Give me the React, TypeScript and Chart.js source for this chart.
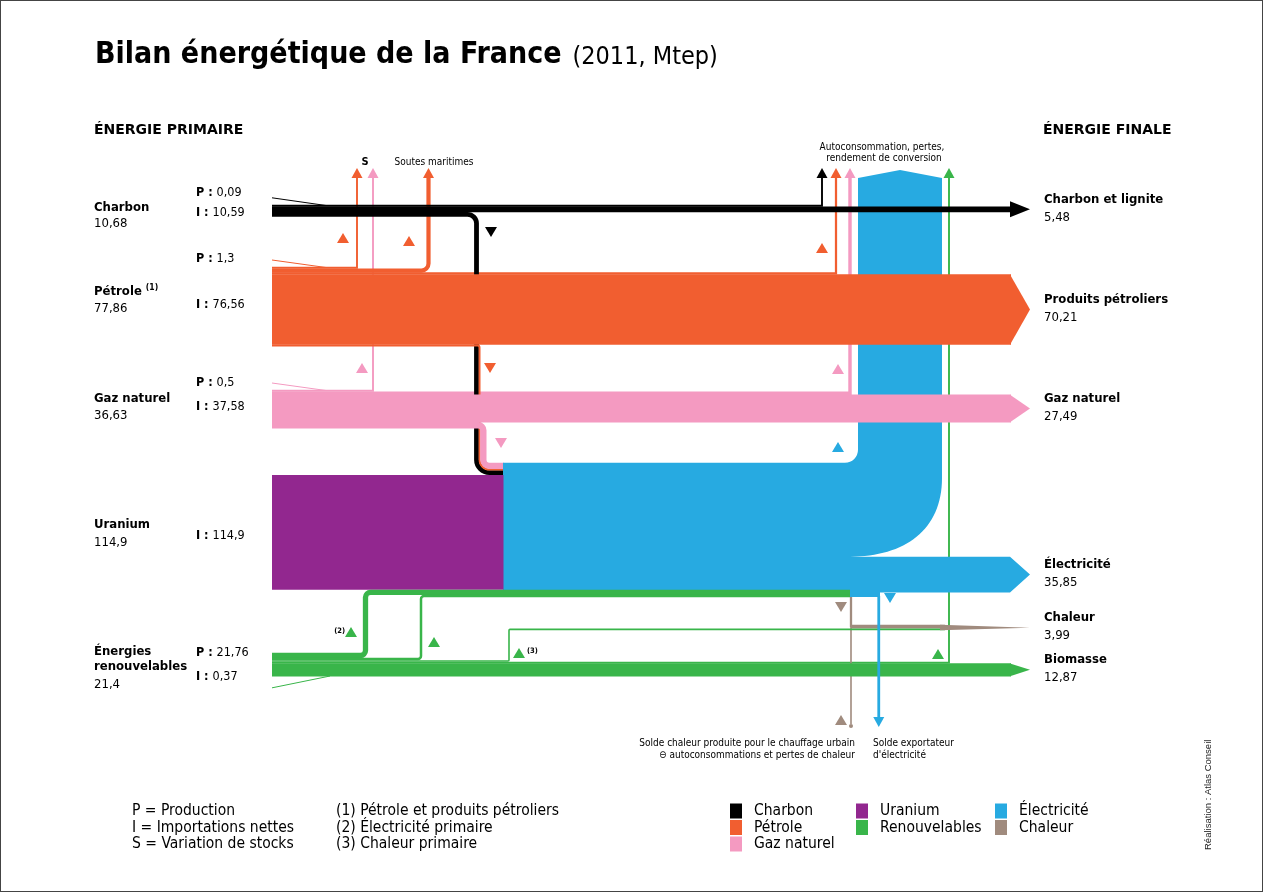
import React, { useEffect, useRef } from "react";
import { Chart, registerables } from "chart.js";
Chart.register(...registerables);

// ---------- DATA (Mtep) ----------
const primaryLabels = ["Charbon", "Pétrole", "Gaz naturel", "Uranium", "Énergies renouvelables"];
const primaryTotals = ["10,68", "77,86", "36,63", "114,9", "21,4"];
const primaryProduction = [0.09, 1.3, 0.5, 0, 21.76];
const primaryImports = [10.59, 76.56, 37.58, 114.9, 0.37];
const primaryPText = ["0,09", "1,3", "0,5", "", "21,76"];
const primaryIText = ["10,59", "76,56", "37,58", "114,9", "0,37"];

const finalLabels = ["Charbon et lignite", "Produits pétroliers", "Gaz naturel", "Électricité", "Chaleur", "Biomasse"];
const finalValues = [5.48, 70.21, 27.49, 35.85, 3.99, 12.87];
const finalText = ["5,48", "70,21", "27,49", "35,85", "3,99", "12,87"];

// intermediate flows
const stockVariation = [0, 1.0, 1.45]; // coal, oil, gas
const marineBunkers = 3.9;
const toElectricity = [4.5, 0.8, 6.0, 114.9]; // coal, oil, gas, uranium
const ownUseLosses = [0.7, 1.95, 3.14, 84, 1.16]; // coal, oil, gas, electricity, renewables
const renewablesToElectricity = [5.0, 2.2]; // (2)
const renewablesToHeat = 0.9; // (3)
const electricityExport = 2.5;
const electricityToHeat = 2.0;
const heatNetBalance = 1.09;

// ---------- STYLE / LAYOUT ----------
const W = 1264;
const H = 893;
const C = {
  coal: "#000000",
  oil: "#F15E30",
  gas: "#F49AC1",
  uranium: "#92278F",
  ren: "#39B54A",
  elec: "#27AAE1",
  heat: "#A08B7E",
};
const FONT = '"DejaVu Sans Condensed", "DejaVu Sans", sans-serif';
const FONT_WIDE = '"DejaVu Sans", sans-serif';

const L = {
  x0: 272, xMerge: 326, xS: 357, xSG: 373, xSoutes: 428.5, xCoalDown: 476.5, xPower: 503,
  xLossCoal: 822, xLossOil: 836, xLossGas: 850, xCol: 858, xLossRen: 949,
  xHeat: 851, xExportEdge: 880, xArrow: 1010, xTip: 1030, xHydro: 365.5, xOther: 421, xHeat3: 509,
  yArrowBase: 178, yArrowTip: 168,
  coalTop: 205, oilTop: 267, gasTop: 390, renTop: 653, blockBottom: 597, heatTop: 625,
};
const dw = (v: number) => Math.max(v, 1.6);
const stack = (top: number, ws: number[]) => {
  let y = top;
  return ws.map((w) => {
    const c = y + w / 2;
    y += w;
    return c;
  });
};

const sankeyPlugin = {
  id: "sankeyDraw",
  afterDraw(chart: any) {
    const ctx: CanvasRenderingContext2D = chart.ctx;
    const xs = chart.scales.x;
    const ys = chart.scales.y;
    const X = (v: number) => xs.getPixelForValue(v);
    const Y = (v: number) => ys.getPixelForValue(v);
    const T = (v: number) => Math.abs(ys.getPixelForValue(v) - ys.getPixelForValue(0));

    const stroke = (pts: number[][], radii: number[], w: number, color: string, extra = 0.3) => {
      ctx.save();
      ctx.beginPath();
      ctx.strokeStyle = color;
      ctx.lineWidth = T(w) + extra;
      ctx.lineJoin = "miter";
      ctx.lineCap = "butt";
      ctx.moveTo(X(pts[0][0]), Y(pts[0][1]));
      for (let i = 1; i < pts.length - 1; i++) {
        ctx.arcTo(X(pts[i][0]), Y(pts[i][1]), X(pts[i + 1][0]), Y(pts[i + 1][1]), radii[i - 1] || 0);
      }
      const last = pts[pts.length - 1];
      ctx.lineTo(X(last[0]), Y(last[1]));
      ctx.stroke();
      ctx.restore();
    };
    const poly = (pts: number[][], color: string) => {
      ctx.save();
      ctx.beginPath();
      ctx.fillStyle = color;
      pts.forEach((p, i) => (i ? ctx.lineTo(X(p[0]), Y(p[1])) : ctx.moveTo(X(p[0]), Y(p[1]))));
      ctx.closePath();
      ctx.fill();
      ctx.restore();
    };
    const arrowUp = (x: number, color: string) =>
      poly([[x - 5.5, L.yArrowBase], [x + 5.5, L.yArrowBase], [x, L.yArrowTip]], color);
    const marker = (x: number, y: number, up: boolean, color: string) =>
      up ? poly([[x - 6, y + 5], [x + 6, y + 5], [x, y - 5]], color)
         : poly([[x - 6, y - 5], [x + 6, y - 5], [x, y + 5]], color);
    const finalBand = (y: number, w: number, color: string, minHalf: number) => {
      stroke([[L.x0, y], [L.xArrow + 1, y]], [], w, color);
      const h = Math.max(T(w) / 2, minHalf);
      poly([[L.xArrow, y - h], [L.xTip, y], [L.xArrow, y + h]], color);
    };
    const line = (a: number[], b: number[], color: string) => {
      ctx.save();
      ctx.strokeStyle = color;
      ctx.lineWidth = 1;
      ctx.beginPath();
      ctx.moveTo(X(a[0]), Y(a[1]));
      ctx.lineTo(X(b[0]), Y(b[1]));
      ctx.stroke();
      ctx.restore();
    };
    const text = (s: string, x: number, y: number, size: number, bold = false, align: CanvasTextAlign = "left", family = FONT, color = "#000") => {
      ctx.save();
      ctx.font = `${bold ? "bold " : ""}${size}px ${family}`;
      ctx.fillStyle = color;
      ctx.textAlign = align;
      ctx.textBaseline = "middle";
      ctx.fillText(s, X(x), Y(y));
      const w = ctx.measureText(s).width;
      ctx.restore();
      return w;
    };

    // ---- stacking ----
    const coalY = stack(L.coalTop, [dw(ownUseLosses[0]), finalValues[0], toElectricity[0]]);
    const oilY = stack(L.oilTop, [dw(stockVariation[1]), marineBunkers, ownUseLosses[1], finalValues[1], dw(toElectricity[1])]);
    const gasY = stack(L.gasTop, [dw(stockVariation[2]), ownUseLosses[2], finalValues[2], toElectricity[2]]);
    const renY = stack(L.renTop, [renewablesToElectricity[0], dw(renewablesToElectricity[1]), dw(renewablesToHeat), dw(ownUseLosses[4]), finalValues[5]]);

    const uBottom = L.blockBottom - dw(renewablesToElectricity[1]) - renewablesToElectricity[0];
    const uTop = uBottom - toElectricity[3];
    const wC = toElectricity[0], wO = dw(toElectricity[1]), wG = toElectricity[2];
    const blackY = uTop - wC / 2;
    const orangeY = uTop - wC - wO / 2;
    const pinkY = uTop - wC - wO - wG / 2;
    const blockTop = uTop - wC - wO - wG;
    const xb = L.xCoalDown;
    const xo = xb + wC / 2 + wO / 2;
    const xp = xo + wO / 2 + wG / 2;
    const rp = 6;
    const cornerX = xp + rp;
    const ro = cornerX - xo;
    const rb = cornerX - xb;

    const eBot = L.blockBottom - electricityExport - electricityToHeat;
    const eTop = eBot - finalValues[3];
    const eC = (eTop + eBot) / 2;
    const colRight = L.xCol + ownUseLosses[3];
    const heatY = stack(L.heatTop, [electricityToHeat, dw(heatNetBalance), dw(renewablesToHeat)]);
    const hydroY = uBottom + renewablesToElectricity[0] / 2;
    const otherY = uBottom + renewablesToElectricity[0] + dw(renewablesToElectricity[1]) / 2;

    // ---- 1. thin vertical branches ----
    stroke([[L.x0, gasY[0]], [L.xSG, gasY[0]], [L.xSG, L.yArrowBase]], [0], dw(stockVariation[2]), C.gas);
    arrowUp(L.xSG, C.gas);
    stroke([[L.x0, oilY[0]], [L.xS, oilY[0]], [L.xS, L.yArrowBase]], [0], dw(stockVariation[1]), C.oil);
    arrowUp(L.xS, C.oil);
    stroke([[L.x0, oilY[1]], [L.xSoutes, oilY[1]], [L.xSoutes, L.yArrowBase]], [7], marineBunkers, C.oil);
    arrowUp(L.xSoutes, C.oil);
    stroke([[L.x0, renY[3]], [L.xLossRen, renY[3]], [L.xLossRen, L.yArrowBase]], [0], dw(ownUseLosses[4]), C.ren);
    arrowUp(L.xLossRen, C.ren);
    stroke([[L.x0, gasY[1]], [L.xLossGas, gasY[1]], [L.xLossGas, L.yArrowBase]], [0], ownUseLosses[2], C.gas);
    arrowUp(L.xLossGas, C.gas);
    stroke([[L.x0, oilY[2]], [L.xLossOil, oilY[2]], [L.xLossOil, L.yArrowBase]], [0], ownUseLosses[1], C.oil);
    arrowUp(L.xLossOil, C.oil);
    stroke([[L.x0, coalY[0]], [L.xLossCoal, coalY[0]], [L.xLossCoal, L.yArrowBase]], [0], dw(ownUseLosses[0]), C.coal);
    arrowUp(L.xLossCoal, C.coal);

    // ---- 2. fuels to power plants ----
    stroke([[L.x0, coalY[2]], [xb, coalY[2]], [xb, blackY], [L.xPower + 1, blackY]], [9, rb], wC, C.coal);
    stroke([[L.x0, oilY[4]], [xo, oilY[4]], [xo, orangeY], [L.xPower + 1, orangeY]], [2, ro], wO, C.oil);
    stroke([[L.x0, gasY[3]], [xp, gasY[3]], [xp, pinkY], [L.xPower + 1, pinkY]], [5, rp], wG, C.gas);

    // ---- 3. heat lines ----
    stroke([[L.xHeat, L.blockBottom - 1], [L.xHeat, heatY[0]], [945, heatY[0]]], [0], electricityToHeat, C.heat);
    stroke([[L.xHeat, 724], [L.xHeat, heatY[1]], [945, heatY[1]]], [0], dw(heatNetBalance), C.heat, 0);

    // ---- 4. electricity block ----
    ctx.save();
    ctx.fillStyle = C.elec;
    ctx.beginPath();
    ctx.moveTo(X(L.xPower), Y(blockTop));
    ctx.lineTo(X(L.xCol - 13), Y(blockTop));
    ctx.arcTo(X(L.xCol), Y(blockTop), X(L.xCol), Y(blockTop - 13), 13);
    ctx.lineTo(X(L.xCol), Y(L.yArrowBase));
    ctx.lineTo(X((L.xCol + colRight) / 2), Y(L.yArrowBase - 8));
    ctx.lineTo(X(colRight), Y(L.yArrowBase));
    ctx.lineTo(X(colRight), Y(478));
    ctx.bezierCurveTo(X(colRight), Y(530), X(905), Y(eTop), X(850), Y(eTop));
    ctx.lineTo(X(L.xArrow), Y(eTop));
    ctx.lineTo(X(L.xTip), Y(eC));
    ctx.lineTo(X(L.xArrow), Y(eBot));
    ctx.lineTo(X(L.xExportEdge), Y(eBot));
    ctx.lineTo(X(L.xExportEdge), Y(L.blockBottom));
    ctx.lineTo(X(L.xPower), Y(L.blockBottom));
    ctx.closePath();
    ctx.fill();
    ctx.restore();

    // ---- 5. uranium ----
    poly([[L.x0, uTop], [L.xPower + 0.5, uTop], [L.xPower + 0.5, uBottom], [L.x0, uBottom]], C.uranium);

    // ---- 6. renewables ----
    stroke([[L.x0, renY[0]], [L.xHydro, renY[0]], [L.xHydro, hydroY], [850, hydroY]], [5, 5], renewablesToElectricity[0], C.ren);
    stroke([[L.x0, renY[1]], [L.xOther, renY[1]], [L.xOther, otherY], [850, otherY]], [3, 3], dw(renewablesToElectricity[1]), C.ren);
    stroke([[L.x0, renY[2]], [L.xHeat3, renY[2]], [L.xHeat3, heatY[2]], [945, heatY[2]]], [1, 1], dw(renewablesToHeat), C.ren, 0);
    finalBand(renY[4], finalValues[5], C.ren, 0);
    poly([[940, L.heatTop - 0.3], [L.xTip, (L.heatTop + heatY[2]) / 2 + 0.5], [940, heatY[2] + 0.8]], C.heat);

    // ---- 7. final bands ----
    finalBand(coalY[1], finalValues[0], C.coal, 8);
    finalBand(oilY[3], finalValues[1], C.oil, 0);
    finalBand(gasY[2], finalValues[2], C.gas, 0);

    // production / import thin lines
    line([L.x0, coalY[0] - 8], [L.xMerge, L.coalTop + 0.5], C.coal);
    line([L.x0, L.oilTop - 7], [L.xMerge, L.oilTop + 0.5], C.oil);
    line([L.x0, L.gasTop - 7], [L.xMerge, L.gasTop + 0.5], C.gas);
    line([L.x0, renY[4] + 18], [330, renY[4] + 6.2], C.ren);

    // export
    const xe = L.xExportEdge - electricityExport / 2;
    stroke([[xe, L.blockBottom - 1], [xe, 717]], [], electricityExport, C.elec);
    poly([[xe - 5.5, 717], [xe + 5.5, 717], [xe, 727]], C.elec);
    // heat balance dot
    ctx.save();
    ctx.fillStyle = C.heat;
    ctx.beginPath();
    ctx.arc(X(L.xHeat), Y(726), 2, 0, Math.PI * 2);
    ctx.fill();
    ctx.restore();

    // ---- markers ----
    const markers: [number, number, boolean, string][] = [
      [343, 238, true, C.oil], [409, 241, true, C.oil], [491, 232, false, C.coal], [362, 368, true, C.gas],
      [490, 368, false, C.oil], [501, 443, false, C.gas], [822, 248, true, C.oil], [838, 369, true, C.gas],
      [838, 447, true, C.elec], [841, 607, false, C.heat], [890, 598, false, C.elec], [841, 720, true, C.heat],
      [351, 632, true, C.ren], [434, 642, true, C.ren], [519, 653, true, C.ren], [938, 654, true, C.ren],
    ];
    markers.forEach((m) => marker(m[0], m[1], m[2], m[3]));
    text("(2)", 345, 631, 7.5, true, "right");
    text("(3)", 527, 651, 7.5, true, "left");

    // ---- texts ----
    const tw = text("Bilan énergétique de la France", 95, 55, 30, true);
    text("(2011, Mtep)", 95 + tw + 11, 57, 25, false);
    text("ÉNERGIE PRIMAIRE", 94, 130, 14, true, "left", FONT_WIDE);
    text("ÉNERGIE FINALE", 1043, 130, 14, true, "left", FONT_WIDE);

    text("S", 365, 162, 11, true, "center");
    text("Soutes maritimes", 434, 162, 10, false, "center");
    text("Autoconsommation, pertes,", 882, 147, 10, false, "center");
    text("rendement de conversion", 884, 158, 10, false, "center");

    // primary labels
    const nameY = [208, 292, 399, 525, 652];
    const valY = [224, 309, 416, 543, 685];
    primaryLabels.forEach((n, i) => {
      if (i === 4) {
        text("Énergies", 94, 652, 13, true);
        text("renouvelables", 94, 667, 13, true);
      } else {
        const w = text(n, 94, nameY[i], 13, true);
        if (i === 1) text("(1)", 94 + w + 4, nameY[i] - 4, 8.5, true);
      }
      text(primaryTotals[i], 94, valY[i], 13, false);
    });
    const pY = [193, 259, 383, 0, 653];
    const iY = [213, 305, 407, 536, 677];
    primaryLabels.forEach((_, i) => {
      if (primaryProduction[i] > 0) {
        const w = text("P : ", 196, pY[i], 12.5, true);
        text(primaryPText[i], 196 + w, pY[i], 12.5, false);
      }
      if (primaryImports[i] > 0) {
        const w = text("I : ", 196, iY[i], 12.5, true);
        text(primaryIText[i], 196 + w, iY[i], 12.5, false);
      }
    });

    // final labels
    const fc = [coalY[1], oilY[3], gasY[2], eC, (L.heatTop + heatY[2]) / 2, renY[4]];
    finalLabels.forEach((n, i) => {
      text(n, 1044, fc[i] - 10, 13, true);
      text(finalText[i], 1044, fc[i] + 8, 13, false);
    });

    // bottom notes
    text("Solde chaleur produite pour le chauffage urbain", 855, 743, 10, false, "right");
    text("⊖ autoconsommations et pertes de chaleur", 855, 755, 10, false, "right");
    text("Solde exportateur", 873, 743, 10, false, "left");
    text("d'électricité", 873, 755, 10, false, "left");

    // legend
    const notes1 = ["P = Production", "I = Importations nettes", "S = Variation de stocks"];
    const notes2 = ["(1) Pétrole et produits pétroliers", "(2) Électricité primaire", "(3) Chaleur primaire"];
    const rowsY = [811, 827.5, 844];
    notes1.forEach((s, i) => text(s, 132, rowsY[i], 15.5, false));
    notes2.forEach((s, i) => text(s, 336, rowsY[i], 15.5, false));
    const legendItems: [string, string, number, number][] = [
      ["Charbon", C.coal, 730, 0], ["Pétrole", C.oil, 730, 1], ["Gaz naturel", C.gas, 730, 2],
      ["Uranium", C.uranium, 856, 0], ["Renouvelables", C.ren, 856, 1],
      ["Électricité", C.elec, 995, 0], ["Chaleur", C.heat, 995, 1],
    ];
    legendItems.forEach(([s, col, x, r]) => {
      poly([[x, rowsY[r] - 7.5], [x + 12, rowsY[r] - 7.5], [x + 12, rowsY[r] + 7.5], [x, rowsY[r] + 7.5]], col);
      text(s, x + 24, rowsY[r], 15.5, false);
    });

    // credit
    ctx.save();
    ctx.translate(X(1208), Y(850));
    ctx.rotate(-Math.PI / 2);
    ctx.font = '9.5px "Liberation Sans", sans-serif';
    ctx.fillStyle = "#222";
    ctx.textBaseline = "middle";
    ctx.fillText("Réalisation : Atlas Conseil", 0, 0);
    ctx.restore();

    // frame
    ctx.save();
    ctx.strokeStyle = "#444";
    ctx.lineWidth = 1;
    ctx.strokeRect(0.5, 0.5, W - 2, H - 2);
    ctx.restore();
  },
};

export default function App() {
  const ref = useRef<HTMLCanvasElement>(null);
  useEffect(() => {
    const canvas = ref.current!;
    const chart = new Chart(canvas, {
      type: "scatter",
      data: { datasets: [{ data: [], pointRadius: 0 }] },
      options: {
        responsive: false,
        animation: false,
        devicePixelRatio: 1,
        layout: { padding: 0 },
        events: [],
        plugins: { legend: { display: false }, tooltip: { enabled: false } },
        scales: {
          x: { type: "linear", min: 0, max: W, display: false },
          y: { type: "linear", min: 0, max: H, reverse: true, display: false },
        },
      },
      plugins: [sankeyPlugin],
    } as any);
    return () => chart.destroy();
  }, []);
  return (
    <div style={{ position: "absolute", left: 0, top: 0, width: W, height: H, background: "#fff" }}>
      <canvas ref={ref} width={W} height={H} style={{ display: "block" }} />
    </div>
  );
}
